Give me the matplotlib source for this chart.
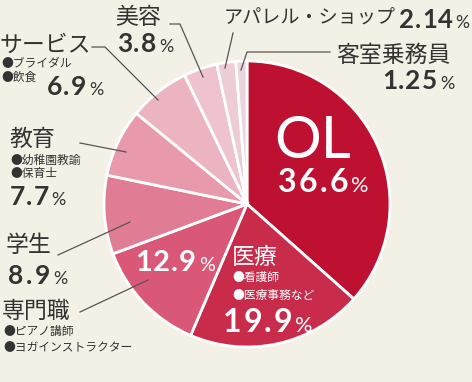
import matplotlib
matplotlib.use("Agg")
import matplotlib.pyplot as plt
from matplotlib.font_manager import FontProperties

# ---- data ----
categories = ["OL", "医療", "専門職", "学生", "教育", "サービス", "美容", "アパレル・ショップ", "客室乗務員"]
values = [36.6, 19.9, 12.9, 8.9, 7.7, 6.9, 3.8, 2.14, 1.25]
value_labels = ["36.6", "19.9", "12.9", "8.9", "7.7", "6.9", "3.8", "2.14", "1.25"]
sub_labels = {
    "医療": ["●看護師", "●医療事務など"],
    "専門職": ["●ピアノ講師", "●ヨガインストラクター"],
    "教育": ["●幼稚園教諭", "●保育士"],
    "サービス": ["●ブライダル", "●飲食"],
}
colors = ["#BE1131", "#C92B4B", "#D95878", "#E07D95", "#E899AB",
          "#ECB3C1", "#EFC3CE", "#EECCD6", "#EBD4DD"]

W, H = 472, 382
BG = "#F3F1E5"
DARK = "#333333"
JP = ["Noto Sans CJK JP", "DejaVu Sans"]
NUM = ["Lato", "DejaVu Sans"]

fig = plt.figure(figsize=(W / 100, H / 100), dpi=100, facecolor=BG)
ax = fig.add_axes([0, 0, 1, 1])
renderer = fig.canvas.get_renderer()

cx, cy, r = 247, 204, 143
def Y(y):
    return H - y

ax.pie(values, colors=colors, startangle=90, counterclock=False,
       center=(cx, Y(cy)), radius=r, frame=True,
       wedgeprops=dict(edgecolor="white", linewidth=2))
ax.set_xlim(0, W)
ax.set_ylim(0, H)
ax.set_aspect("equal")
ax.axis("off")

def txt(x, y, s, size, color=DARK, ha="left", va="baseline", family=JP, weight="normal"):
    ax.text(x, Y(y), s, fontsize=size, color=color, ha=ha, va=va,
            family=family, fontweight=weight)

def num(x0, x1, yb, s, size, color=DARK, pct_gap=2):
    """digits spread from x0 to x1 (px), then a smaller % sign."""
    prop = FontProperties(family=NUM, weight="bold", size=size)
    widths = [renderer.get_text_width_height_descent(c, prop, ismath=False)[0] for c in s]
    gap = max((x1 - x0 - sum(widths)) / max(len(s) - 1, 1), 1.0)
    x = x0
    for c, w in zip(s, widths):
        ax.text(x, Y(yb), c, fontproperties=prop, color=color, ha="left", va="baseline")
        x += w + gap
    ax.text(x - gap + pct_gap + 1, Y(yb), "%", fontsize=size * 0.68, color=color, ha="left",
            va="baseline", family=NUM, fontweight="normal")

def line(pts):
    xs = [p[0] for p in pts]
    ys = [Y(p[1]) for p in pts]
    ax.plot(xs, ys, color="#555555", lw=0.9)

BIG = 16.5

# OL
txt(313, 142, categories[0], 42, color="white", ha="center", va="center", family=NUM)
num(278, 348, 192, value_labels[0], 23, color="white")

# 医療
txt(232, 257, categories[1], BIG, color="white", va="center")
for i, s in enumerate(sub_labels["医療"]):
    txt(232, 277 + 18 * i, s, 8.5, color="white", va="center")
num(223, 292, 332, value_labels[1], 23, color="white")

# 専門職
num(135, 194, 271, value_labels[2], 21, color="white")
txt(2, 311, categories[2], BIG, va="center")
for i, s in enumerate(sub_labels["専門職"]):
    txt(3, 332 + 15 * i, s, 8.5, va="center")
line([(80, 312), (148, 280)])

# 学生
txt(6, 245, categories[3], BIG, va="center")
num(8, 50, 284, value_labels[3], 19)
line([(58, 255), (130, 222)])

# 教育
txt(9, 139, categories[4], BIG, va="center")
for i, s in enumerate(sub_labels["教育"]):
    txt(10, 160 + 13 * i, s, 8.5, va="center")
num(10, 46, 205, value_labels[4], 19)
line([(80, 143), (126, 152)])

# サービス
txt(-1, 45, categories[5], BIG, va="center")
for i, s in enumerate(sub_labels["サービス"]):
    txt(1, 63 + 14 * i, s, 8.5, va="center")
num(47, 85, 95, value_labels[5], 19)
line([(92, 47), (105, 47), (158, 100)])

# 美容
txt(115, 17, categories[6], BIG, va="center")
num(117, 155, 52, value_labels[6], 19)
line([(170, 24), (180, 24), (203, 77)])

# アパレル・ショップ
txt(224, 18, categories[7], 13.8, va="center")
num(399, 447, 28, value_labels[7], 18.5)
line([(233, 33), (225, 68)])

# 客室乗務員
txt(336, 55, categories[8], BIG, va="center")
num(382, 437, 89, value_labels[8], 19)
line([(330, 52), (247, 52), (241, 70)])

fig.savefig("out.png", dpi=100, facecolor=BG)
